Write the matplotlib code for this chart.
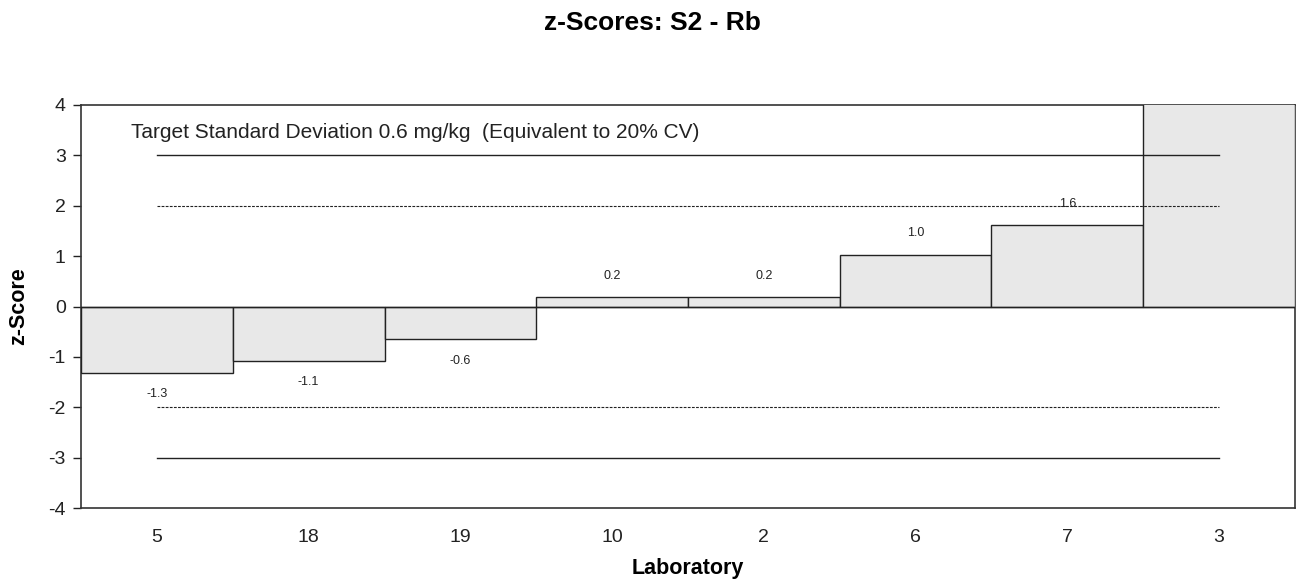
import matplotlib
matplotlib.use("Agg")
import matplotlib.pyplot as plt
import numpy as np

plt.rcParams['font.family'] = ['Liberation Sans', 'DejaVu Sans']
plt.rcParams['axes.unicode_minus'] = False

labs = ["5", "18", "19", "10", "2", "6", "7", "3"]
zscores = [-1.32, -1.08, -0.65, 0.19, 0.19, 1.03, 1.62, 6.5]
value_labels = ["-1.3", "-1.1", "-0.6", "0.2", "0.2", "1.0", "1.6", "6.5"]
limits_action = [-3, 3]
limits_warning = [-2, 2]
title = "z-Scores: S2 - Rb"
note = "Target Standard Deviation 0.6 mg/kg  (Equivalent to 20% CV)"

fig = plt.figure(figsize=(13.05, 5.8), dpi=100)
ax = fig.add_axes([0.0621, 0.1241, 0.9302, 0.6949])

x = np.arange(len(labs))
ax.bar(x, zscores, width=1.0, color="#e8e8e8", edgecolor="#222222",
       linewidth=1.0, zorder=3)

for v in limits_action:
    ax.plot([x[0], x[-1]], [v, v], color="#222222", lw=1.0, zorder=4)
for v in limits_warning:
    ax.plot([x[0], x[-1]], [v, v], color="#222222", lw=0.8,
            linestyle=(0, (2.5, 1.2)), zorder=4)

ax.axhline(0, color="#222222", lw=1.0, zorder=4)

for xi, v, t in zip(x, zscores, value_labels):
    if v > 4 or v < -4:
        continue
    if v >= 0:
        ax.annotate(t, (xi, v), xytext=(0, 11), textcoords="offset points",
                    ha="center", va="bottom", fontsize=9, color="#222222", zorder=5)
    else:
        ax.annotate(t, (xi, v), xytext=(0, -11), textcoords="offset points",
                    ha="center", va="top", fontsize=9, color="#222222", zorder=5)

ax.text(0.041, 0.932, note, transform=ax.transAxes, fontsize=15,
        color="#222222", ha="left", va="center")

ax.set_xlim(-0.5, len(labs) - 0.5)
ax.set_ylim(-4, 4)
ax.set_yticks(range(-4, 5))
ax.set_xticks(x)
ax.set_xticklabels(labs)
ax.tick_params(axis="y", length=6, width=1, labelsize=14, colors="#222222", pad=5)
ax.tick_params(axis="x", length=0, labelsize=14, colors="#222222", pad=15)
for s in ax.spines.values():
    s.set_color("#333333")
    s.set_linewidth(1.2)
    s.set_zorder(2.5)

ax.set_xlabel("Laboratory", fontsize=15.5, fontweight="bold", labelpad=9)
ax.set_ylabel("z-Score", fontsize=15.5, fontweight="bold", labelpad=14)
fig.text(0.5, 0.96, title, ha="center", va="center", fontsize=19,
         fontweight="bold")

fig.savefig("out.png", dpi=100)
